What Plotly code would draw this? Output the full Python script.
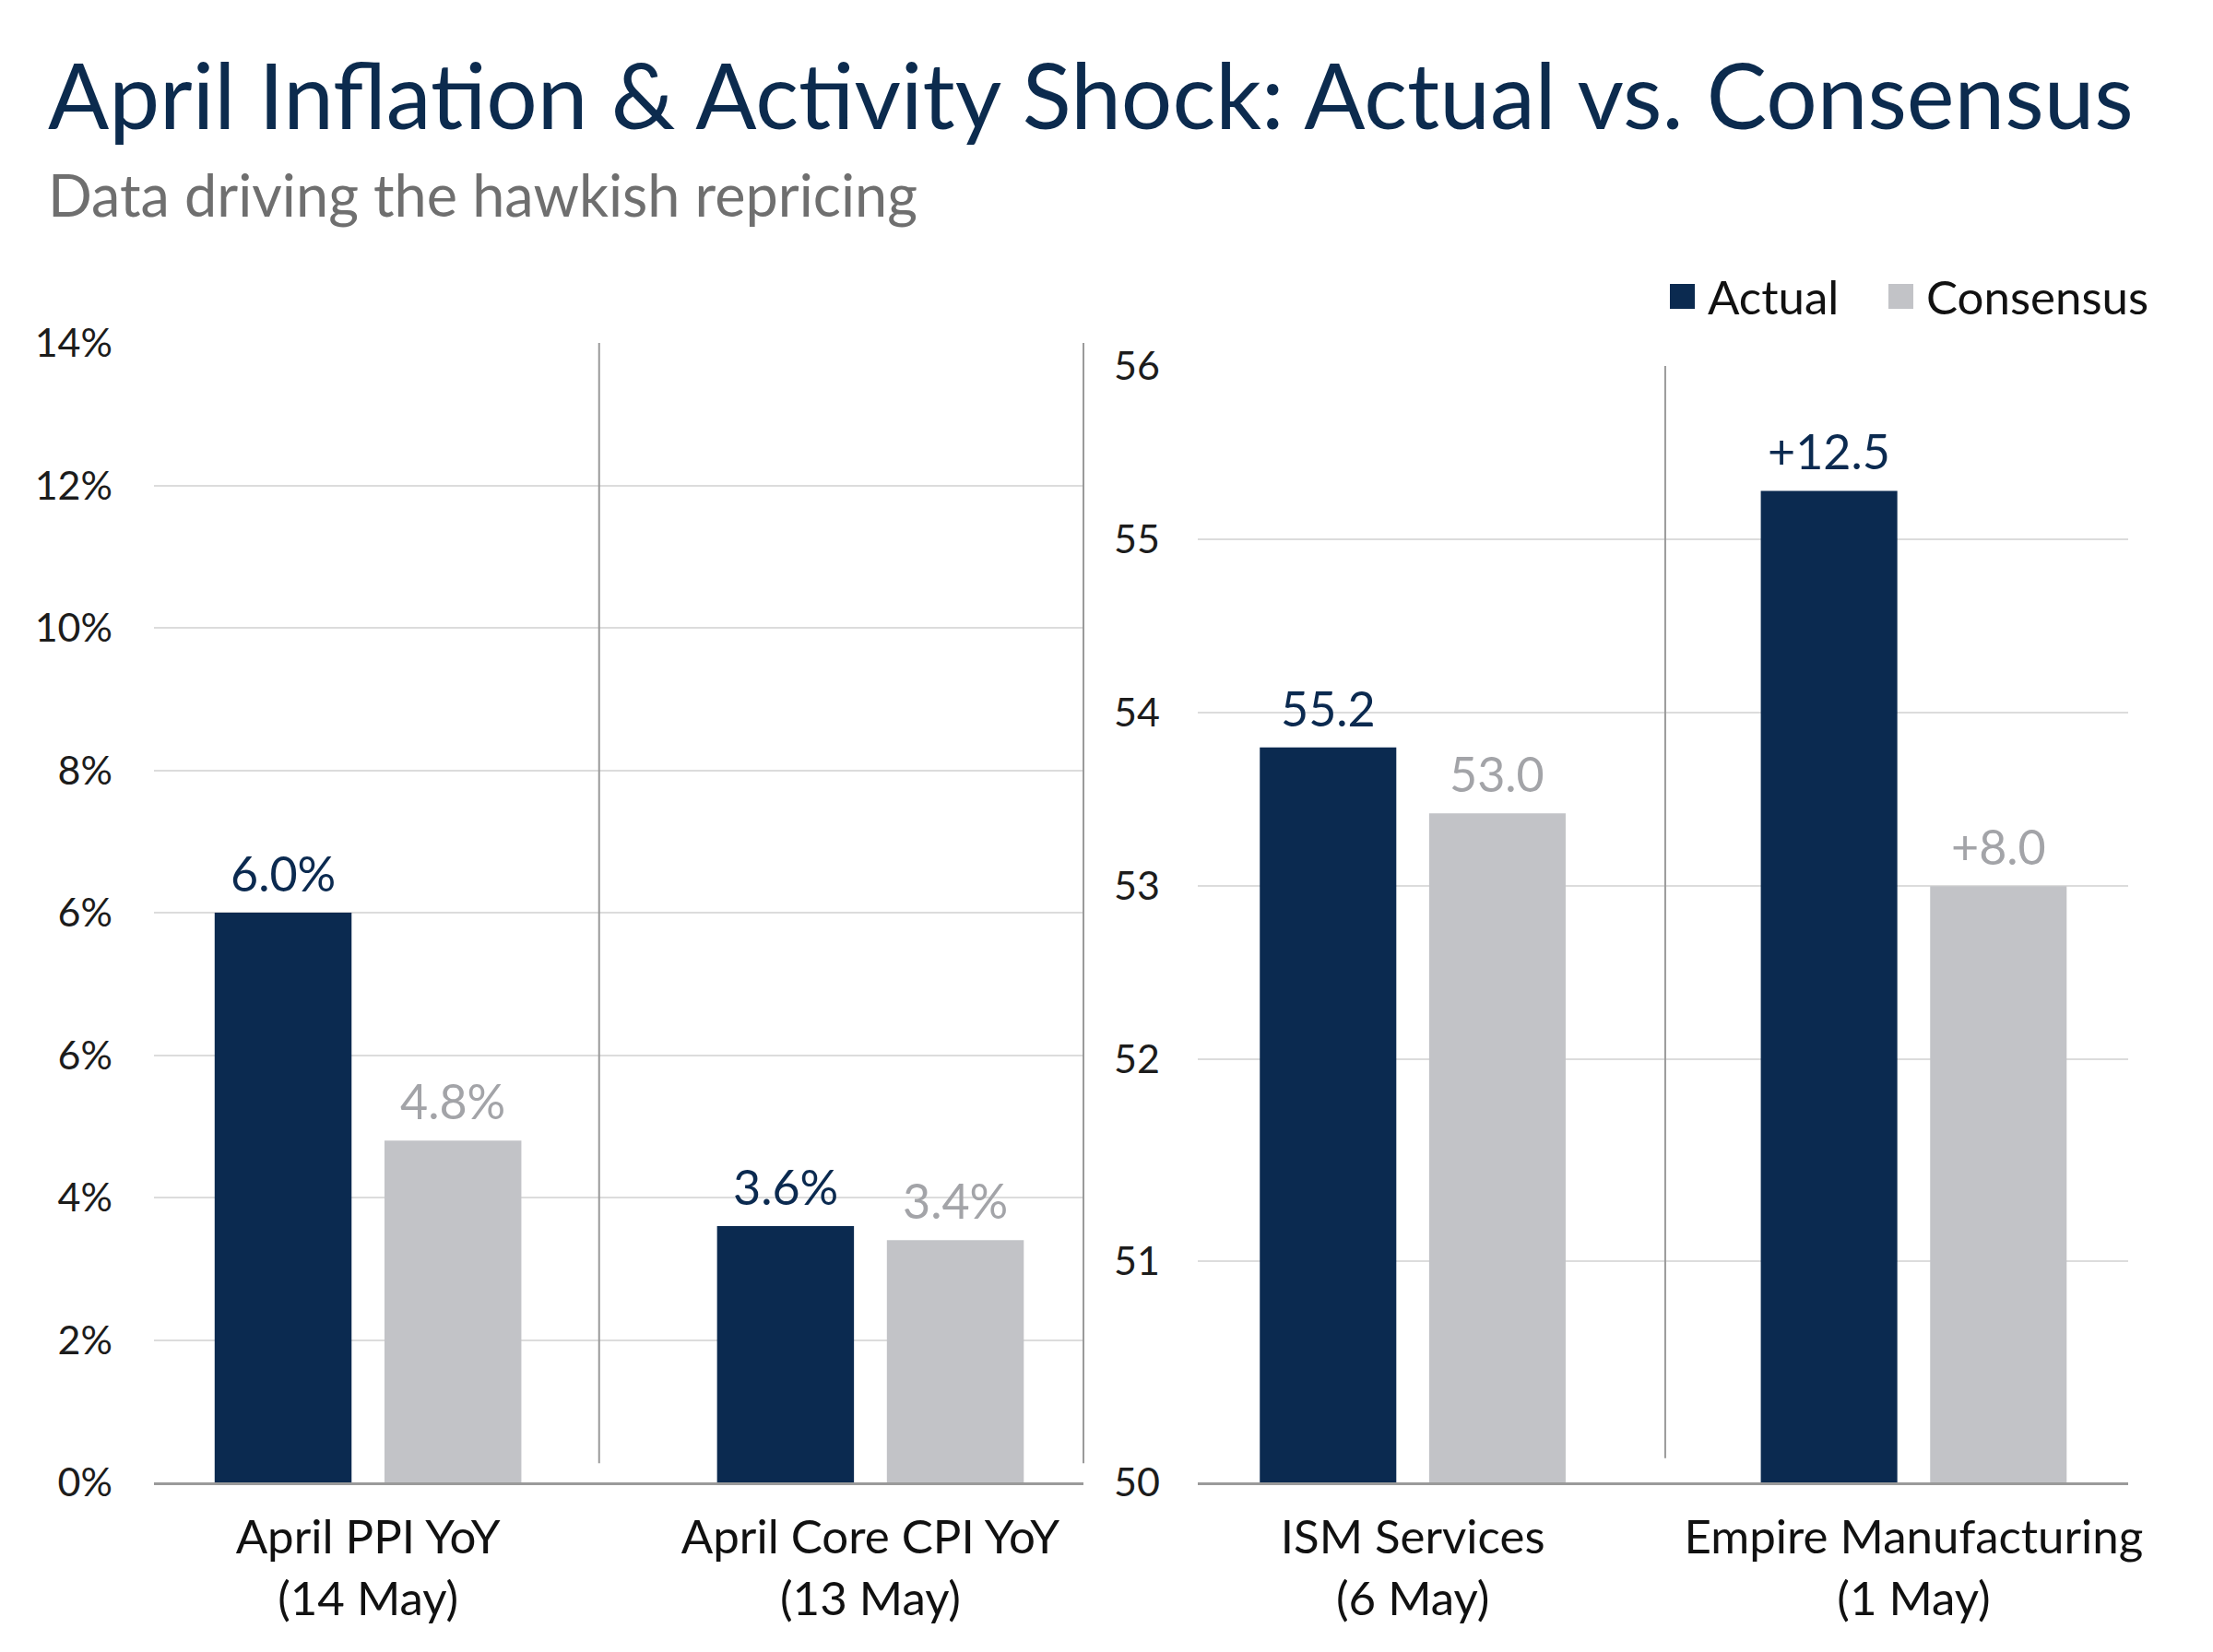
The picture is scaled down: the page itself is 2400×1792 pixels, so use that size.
import numpy as np
import plotly.graph_objects as go

# ---------------- data ----------------
inflation_categories = ["April PPI YoY<br>(14 May)", "April Core CPI YoY<br>(13 May)"]
inflation_actual_height = [8.0, 3.6]        # bar tops as read against the left grid
inflation_consensus_height = [4.8, 3.4]
inflation_actual_labels = ["6.0%", "3.6%"]
inflation_consensus_labels = ["4.8%", "3.4%"]
inflation_tick_vals = [0, 2, 4, 6, 8, 10, 12, 14, 16]
inflation_tick_text = ["0%", "2%", "4%", "6%", "6%", "8%", "10%", "12%", "14%"]

activity_categories = ["ISM Services<br>(6 May)", "Empire Manufacturing<br>(1 May)"]
activity_actual_height = [53.8, 55.28]      # bar tops as read against the right grid
activity_consensus_height = [53.42, 53.0]
activity_actual_labels = ["55.2", "+12.5"]
activity_consensus_labels = ["53.0", "+8.0"]
activity_tick_vals = [49.56, 50.835, 52, 53, 54, 55, 56]
activity_tick_text = ["50", "51", "52", "53", "54", "55", "56"]

# ---------------- style ----------------
NAVY = "#0b2a50"
GRAY_BAR = "#c2c3c7"
GRAY_LABEL = "#a3a4a8"
GRID = "#dcdcdc"
AXIS = "#9a9a9a"
FONT = "Lato"
W, H = 2400, 1792
BAR_W = 0.2725
OFF = 0.169

fig = go.Figure()

def add_panel(cats, act, con, act_lab, con_lab, xa, ya):
    pos = np.arange(len(cats))
    fig.add_trace(go.Bar(x=pos - OFF, y=act, width=BAR_W, marker=dict(color=NAVY, line=dict(width=0)),
                         name="Actual", showlegend=False, xaxis=xa, yaxis=ya, hoverinfo="skip"))
    fig.add_trace(go.Bar(x=pos + OFF, y=con, width=BAR_W, marker=dict(color=GRAY_BAR, line=dict(width=0)),
                         name="Consensus", showlegend=False, xaxis=xa, yaxis=ya, hoverinfo="skip"))
    for p, v, t in zip(pos - OFF, act, act_lab):
        fig.add_annotation(x=p, y=v, xref=xa, yref=ya, text=t, showarrow=False, yanchor="bottom",
                           yshift=10, font=dict(family=FONT, size=52, color=NAVY))
    for p, v, t in zip(pos + OFF, con, con_lab):
        fig.add_annotation(x=p, y=v, xref=xa, yref=ya, text=t, showarrow=False, yanchor="bottom",
                           yshift=10, font=dict(family=FONT, size=52, color=GRAY_LABEL))
    return pos

pos1 = add_panel(inflation_categories, inflation_actual_height, inflation_consensus_height,
                 inflation_actual_labels, inflation_consensus_labels, "x", "y")
pos2 = add_panel(activity_categories, activity_actual_height, activity_consensus_height,
                 activity_actual_labels, activity_consensus_labels, "x2", "y2")

tickfont = dict(family=FONT, size=43, color="#1c1c1c")
catfont = dict(family=FONT, size=51, color="#111111")

y_bottom = 1 - 1608 / H
fig.update_layout(
    template="none",
    width=W, height=H,
    margin=dict(l=0, r=0, t=0, b=0, pad=0, autoexpand=False),
    paper_bgcolor="white", plot_bgcolor="white",
    barmode="overlay",
    showlegend=False,
    xaxis=dict(domain=[167 / W, 1175 / W], range=[-0.426, 1.424], tickvals=list(pos1),
               ticktext=inflation_categories, tickfont=catfont, showgrid=False, zeroline=False,
               showline=True, linecolor=AXIS, linewidth=3, ticks="", ticklabelstandoff=13,
               automargin=False, fixedrange=True),
    yaxis=dict(domain=[y_bottom, 1 - 372 / H], range=[0, 16], tickvals=inflation_tick_vals,
               ticktext=inflation_tick_text, tickfont=tickfont, showgrid=True, gridcolor=GRID, gridwidth=2,
               zeroline=False, showline=False, ticks="", ticklabelstandoff=44, automargin=False,
               fixedrange=True),
    xaxis2=dict(domain=[1299 / W, 2308 / W], range=[-0.429, 1.428], tickvals=list(pos2),
                ticktext=activity_categories, tickfont=catfont, showgrid=False, zeroline=False,
                showline=True, linecolor=AXIS, linewidth=3, ticks="", ticklabelstandoff=13,
                anchor="y2", automargin=False, fixedrange=True),
    yaxis2=dict(domain=[y_bottom, 1 - 397 / H], range=[49.56, 56], tickvals=activity_tick_vals,
                ticktext=activity_tick_text, tickfont=tickfont, showgrid=True, gridcolor=GRID, gridwidth=2,
                zeroline=False, showline=False, ticks="", ticklabelstandoff=40, anchor="x2",
                automargin=False, fixedrange=True),
)

# dividers between categories and the left panel's right edge
fig.add_shape(type="line", xref="x", yref="y", x0=0.46, x1=0.46, y0=0.27, y1=16,
              line=dict(color=AXIS, width=2))
fig.add_shape(type="line", xref="x domain", yref="y", x0=1, x1=1, y0=0.27, y1=16,
              line=dict(color=AXIS, width=2))
fig.add_shape(type="line", xref="x2", yref="y2", x0=0.504, x1=0.504, y0=49.7, y1=56,
              line=dict(color=AXIS, width=2))

# title and subtitle
fig.add_annotation(xref="paper", yref="paper", x=50 / W, y=1 - 102 / H, xanchor="left", yanchor="middle",
                   text="April Inflation &amp; Activity Shock: Actual vs. Consensus", showarrow=False,
                   font=dict(family=FONT, size=98, color="#0c2b4e"))
fig.add_annotation(xref="paper", yref="paper", x=50 / W, y=1 - 210 / H, xanchor="left", yanchor="middle",
                   text="Data driving the hawkish repricing", showarrow=False,
                   font=dict(family=FONT, size=63, color="#6f6f6f"))

# legend
legend_items = [("Actual", NAVY, 1811), ("Consensus", GRAY_BAR, 2048)]
for name, col, x0 in legend_items:
    fig.add_shape(type="rect", xref="paper", yref="paper", x0=x0 / W, x1=(x0 + 27) / W,
                  y0=1 - 335 / H, y1=1 - 308 / H, fillcolor=col, line=dict(width=0))
    fig.add_annotation(xref="paper", yref="paper", x=(x0 + 39) / W, y=1 - 321 / H, xanchor="left",
                       yanchor="middle", text=name, showarrow=False,
                       font=dict(family=FONT, size=51, color="#111111"))

fig.write_html("out.html")
